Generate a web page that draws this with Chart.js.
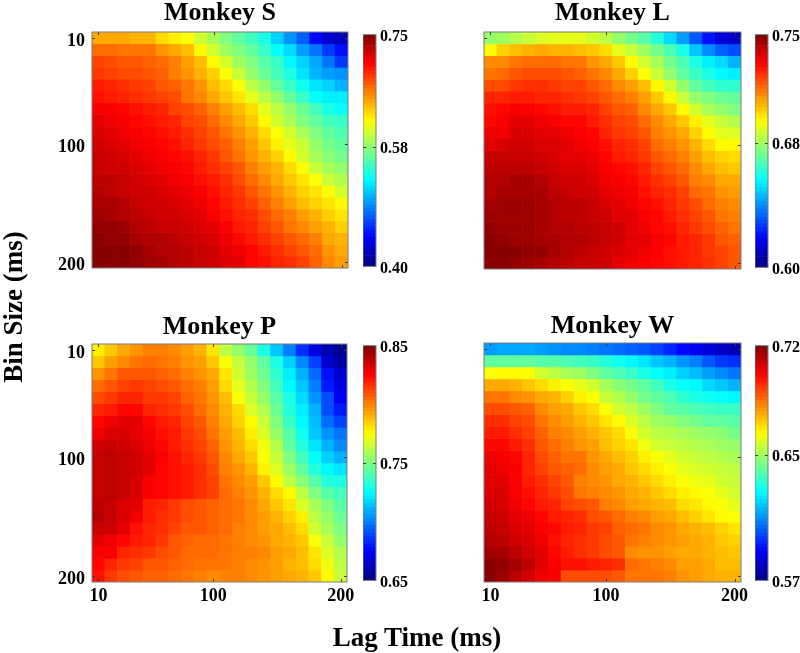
<!DOCTYPE html>
<html>
<head>
<meta charset="utf-8">
<title>Monkey heatmaps</title>
<script src="https://cdn.jsdelivr.net/npm/chart.js@4"></script>
<style>
    body { margin: 0; background: #fff; }
    /* the source figure is a soft scan, a touch of blur gets closer to it */
    #page { position: relative; width: 800px; height: 653px; overflow: hidden; filter: blur(0.4px); }
    canvas { position: absolute; }
    .axisLabel {
        position: absolute;
        font: bold 27px "Liberation Serif", serif;
        color: #000;
        white-space: nowrap;
        transform: translate(-50%, -50%);
    }
</style>
</head>
<body>
<div id="page">
    <div class="axisLabel" style="left:417px;top:637px">Lag Time (ms)</div>
    <div class="axisLabel" style="left:13px;top:307px;transform:translate(-50%,-50%) rotate(-90deg)">Bin Size (ms)</div>
</div>
<script>
const lagTimes = [10, 20, 30, 40, 50, 60, 70, 80, 90, 100, 110, 120, 130, 140, 150, 160, 170, 180, 190, 200];
const binSizes = [10, 20, 30, 40, 50, 60, 70, 80, 90, 100, 110, 120, 130, 140, 150, 160, 170, 180, 190, 200];
const axisTicks = [10, 100, 200];

// cell values, as percent of the way up each colour bar
// one row per bin size, one column per lag time
const monkeyS = [
    [71,71,71,70,70,66,64,62,58,54,50,47,44,40,33,27,22,13,8,6],
    [77,77,76,76,76,73,71,69,63,58,53,50,47,43,38,34,28,24,18,14],
    [81,80,79,79,78,77,75,72,69,63,58,53,50,46,43,37,33,29,24,18],
    [82,81,80,80,79,78,75,73,70,67,62,57,52,48,44,40,35,30,28,27],
    [85,84,83,82,81,79,78,76,73,69,66,62,56,52,47,43,39,35,33,30],
    [86,85,84,83,82,81,80,76,74,71,68,65,60,56,52,47,43,38,36,36],
    [88,88,87,86,85,84,81,80,78,75,72,69,66,60,56,52,48,44,40,38],
    [90,89,88,87,86,85,84,81,80,77,74,71,68,63,58,54,50,47,44,43],
    [91,90,89,88,87,86,85,83,81,79,76,73,70,66,62,58,54,50,47,45],
    [92,91,90,89,88,87,86,84,82,80,78,75,72,68,64,60,57,52,49,47],
    [93,92,91,90,89,88,87,86,84,82,79,76,73,70,67,63,58,54,51,49],
    [93,92,92,91,90,89,88,87,85,83,81,79,75,72,70,66,62,57,54,52],
    [94,94,93,92,91,90,89,88,86,85,83,80,77,74,71,68,65,62,57,55],
    [95,94,93,92,92,91,90,89,88,86,84,82,79,76,73,70,67,65,62,58],
    [96,96,95,93,92,92,91,90,89,87,85,83,81,78,75,72,69,67,65,63],
    [97,96,95,94,93,92,92,91,90,88,86,84,83,80,77,75,72,70,67,65],
    [98,98,97,95,94,93,93,92,91,90,88,85,84,81,79,76,74,72,70,67],
    [99,98,98,96,95,95,94,93,92,91,89,87,85,83,81,79,77,75,71,70],
    [99,99,99,98,96,95,95,94,93,92,90,89,87,85,83,81,79,77,73,71],
    [99,99,99,98,97,96,95,94,93,92,91,90,87,86,84,83,81,78,74,72]
];
const monkeyL = [
    [52,53,55,57,59,60,60,60,58,56,52,49,46,41,34,28,21,14,9,7],
    [63,67,69,70,71,70,70,69,68,66,60,57,53,49,45,40,32,26,22,20],
    [74,74,76,77,77,77,76,76,73,71,68,63,58,54,49,45,40,36,34,30],
    [76,77,79,80,80,80,79,78,76,74,71,67,62,57,52,47,43,40,37,36],
    [80,80,82,83,83,82,81,81,79,77,74,72,69,63,58,52,47,44,42,42],
    [84,84,85,85,84,84,83,82,81,79,77,75,72,68,63,57,52,50,48,47],
    [86,87,88,88,87,86,85,85,84,81,79,78,74,71,68,63,58,54,52,50],
    [87,88,90,90,89,88,87,87,85,83,81,80,77,74,71,68,64,60,57,55],
    [89,89,91,91,90,90,89,88,87,84,82,81,79,75,73,71,67,63,60,59],
    [90,91,92,92,91,91,90,89,88,86,84,83,81,77,75,73,70,66,63,63],
    [93,93,93,93,92,91,90,90,89,87,85,84,82,79,77,75,72,69,67,66],
    [94,94,94,94,93,92,91,91,90,88,87,86,84,81,79,77,74,71,69,68],
    [95,95,96,96,95,93,92,92,91,89,88,87,85,83,81,79,75,74,71,71],
    [95,96,96,96,96,94,93,92,92,90,89,88,86,84,83,81,77,76,73,72],
    [96,97,97,97,96,95,94,94,93,91,90,89,87,86,84,82,80,77,75,74],
    [97,97,97,97,96,95,94,94,93,92,90,90,88,87,85,83,81,79,76,75],
    [98,97,97,97,96,95,95,94,94,93,92,90,89,87,86,84,82,80,78,76],
    [99,98,97,97,96,96,95,95,94,93,92,90,90,88,87,85,84,82,79,78],
    [99,99,99,98,98,96,95,94,93,92,91,90,89,88,86,85,84,82,81,79],
    [99,99,98,97,96,95,94,93,93,92,90,89,88,87,86,85,84,83,81,79]
];
const monkeyP = [
    [64,68,71,73,75,75,74,72,70,65,56,52,48,40,32,25,17,10,5,2],
    [68,72,74,76,77,76,75,73,72,68,62,57,52,47,40,33,26,19,8,4],
    [73,76,79,79,79,78,77,75,73,71,65,58,53,48,42,36,30,23,14,8],
    [77,79,81,82,81,80,79,77,75,72,66,60,55,50,44,37,32,25,15,10],
    [80,82,84,84,82,82,81,78,76,73,69,62,57,52,46,40,34,27,20,12],
    [84,85,87,87,84,83,82,80,77,74,70,66,59,55,48,41,36,30,20,15],
    [87,89,90,90,87,85,84,81,79,75,71,67,63,57,50,43,37,31,23,19],
    [89,91,91,90,88,86,85,82,80,76,72,69,64,59,52,46,39,32,27,24],
    [92,93,92,91,89,87,85,83,81,78,73,70,66,61,55,47,41,35,30,26],
    [93,94,93,92,90,88,86,84,82,79,74,71,68,62,57,50,44,38,33,30],
    [93,94,93,92,90,87,86,85,83,80,75,73,70,64,59,53,47,41,37,35],
    [93,94,93,91,88,87,86,85,83,81,76,74,72,68,63,56,51,46,41,40],
    [93,94,93,91,88,87,86,85,83,81,77,75,73,70,66,63,56,50,46,44],
    [94,93,91,90,85,84,82,80,79,78,77,76,74,71,68,65,59,54,50,46],
    [95,93,91,89,85,83,82,80,79,78,77,76,74,72,70,67,64,56,52,48],
    [93,92,90,86,84,83,81,79,79,78,77,75,74,72,71,69,66,58,54,50],
    [90,89,87,85,84,82,79,78,77,77,76,75,74,73,71,70,68,62,57,52],
    [88,88,84,83,82,80,79,77,77,77,76,75,75,74,72,71,69,65,59,55],
    [87,84,82,81,79,79,78,77,76,76,76,75,74,73,72,70,69,66,61,56],
    [86,82,80,79,78,78,77,76,75,74,75,75,74,73,72,71,70,68,63,57]
];
const monkeyW = [
    [28,29,29,29,28,27,26,26,25,24,23,22,21,19,16,13,11,9,7,5],
    [47,47,47,47,46,46,45,44,43,41,39,37,35,32,30,27,25,21,18,17],
    [62,63,63,62,58,56,54,53,50,47,45,43,40,38,36,33,31,28,26,24],
    [71,71,70,68,66,64,62,60,58,54,51,49,47,44,40,38,37,34,32,30],
    [76,76,74,73,71,70,67,64,62,57,55,52,49,47,45,42,40,39,38,37],
    [80,80,79,78,74,72,71,68,66,62,58,56,53,50,47,46,45,44,43,43],
    [83,83,81,80,76,74,72,70,68,65,63,59,56,53,52,50,49,47,47,46],
    [85,85,83,81,78,75,74,72,70,68,66,62,58,56,55,54,53,52,51,49],
    [87,87,85,83,79,77,75,73,72,69,67,65,61,58,57,56,55,54,53,52],
    [89,88,87,84,80,78,76,76,73,71,69,67,64,62,60,58,57,56,55,54],
    [90,89,88,84,81,79,78,77,74,72,71,68,66,64,62,60,59,58,57,56],
    [90,90,88,85,83,81,79,75,74,73,71,70,68,66,64,62,61,60,58,57],
    [91,91,88,86,84,82,80,76,75,74,73,71,70,68,66,64,63,62,60,58],
    [92,91,89,87,85,84,81,80,79,75,74,72,71,70,69,66,65,63,62,60],
    [93,92,90,89,87,85,84,83,80,79,77,75,74,72,71,69,67,65,63,62],
    [94,93,91,90,88,87,85,84,82,81,78,77,76,74,73,71,70,69,67,65],
    [95,94,92,91,89,86,84,83,82,80,79,76,75,74,73,72,71,70,68,67],
    [97,96,94,92,90,87,85,83,82,80,79,74,73,73,72,71,71,70,69,68],
    [99,98,96,94,90,88,86,86,85,84,83,77,76,75,74,72,72,71,69,69],
    [99,97,94,92,89,88,80,80,80,80,79,76,76,76,75,73,72,71,70,70]
];

const barTicksS = [0.40, 0.58, 0.75];
const barTicksL = [0.60, 0.68, 0.75];
const barTicksP = [0.65, 0.75, 0.85];
const barTicksW = [0.57, 0.65, 0.72];

const SERIF = '"Liberation Serif", serif';
const page = document.getElementById("page");

function jet(p) {
    const c = v => Math.round(255 * Math.min(1, Math.max(0, 1.5 - Math.abs(v))));
    return `rgb(${c(4 * p - 3)},${c(4 * p - 2)},${c(4 * p - 1)})`;
}

function nuevoCanvas(left, top, width, height) {
    const canvas = document.createElement("canvas");
    canvas.width = width;
    canvas.height = height;
    canvas.style.left = left + "px";
    canvas.style.top = top + "px";
    page.appendChild(canvas);
    return canvas;
}

// frame and little inward ticks, like the matlab box
const cajaPlugin = {
    id: "caja",
    afterDatasetsDraw(chart) {
        const { ctx, chartArea: a, scales } = chart;
        ctx.save();
        ctx.strokeStyle = "#3a3a3a";
        ctx.lineWidth = 1;
        ctx.beginPath();
        scales.y.ticks.forEach(t => {
            const py = Math.round(scales.y.getPixelForValue(t.value)) + 0.5;
            ctx.moveTo(a.left, py); ctx.lineTo(a.left + 3, py);
            ctx.moveTo(a.right, py); ctx.lineTo(a.right - 3, py);
        });
        if (scales.x.type === "linear") {
            scales.x.ticks.forEach(t => {
                const px = Math.round(scales.x.getPixelForValue(t.value)) + 0.5;
                ctx.moveTo(px, a.top); ctx.lineTo(px, a.top + 3);
                ctx.moveTo(px, a.bottom); ctx.lineTo(px, a.bottom - 3);
            });
        }
        ctx.stroke();
        ctx.strokeStyle = "#7d7d7d";
        ctx.strokeRect(a.left, a.top, a.right - a.left, a.bottom - a.top);
        ctx.restore();
    }
};

function dibujarMapa(titulo, filas, rango, pos, conEtiquetasX) {
    const datasets = binSizes.map((bin, r) => ({
        label: bin + " ms",
        data: lagTimes.map(lag => ({ x: lag, y: [bin - 5, bin + 5] })),
        backgroundColor: filas[r].map(p => jet(p / 100)),
        // value the colour stands for, on the panel's own colour bar
        valores: filas[r].map(p => rango[0] + (rango[2] - rango[0]) * p / 100)
    }));
    const bajaTitulo = pos.top > 300 ? 2 : 0;
    const canvas = nuevoCanvas(pos.left - 60, pos.top - 32, pos.width + 80, pos.height + 60);
    new Chart(canvas, {
        type: "bar",
        data: { datasets },
        plugins: [cajaPlugin],
        options: {
            responsive: false,
            animation: false,
            grouped: false,
            barPercentage: 1,
            categoryPercentage: 1,
            borderWidth: 0,
            layout: { autoPadding: false, padding: { right: 20 } },
            plugins: {
                legend: { display: false },
                tooltip: { enabled: false },
                title: {
                    display: true,
                    text: titulo,
                    fullSize: false,
                    color: "#000",
                    font: { family: SERIF, size: 26, weight: "bold", lineHeight: 1 },
                    padding: { top: bajaTitulo, bottom: 6 - bajaTitulo }
                }
            },
            scales: {
                x: {
                    type: "linear",
                    offset: false,
                    min: 5,
                    max: 205,
                    stacked: true,
                    grid: { display: false, drawTicks: false },
                    border: { display: false },
                    afterBuildTicks: s => { s.ticks = axisTicks.map(value => ({ value })); },
                    afterFit: s => { s.height = 28; },
                    ticks: {
                        display: conEtiquetasX,
                        autoSkip: false,
                        maxRotation: 0,
                        padding: 4,
                        color: "#000",
                        font: { family: SERIF, size: 18, weight: "bold" }
                    }
                },
                y: {
                    type: "linear",
                    reverse: true,
                    min: 5,
                    max: 205,
                    grid: { display: false, drawTicks: false },
                    border: { display: false },
                    afterBuildTicks: s => { s.ticks = axisTicks.map(value => ({ value })); },
                    afterFit: s => { s.width = 60; },
                    ticks: {
                        display: pos.left < 200,
                        autoSkip: false,
                        padding: 7,
                        labelOffset: 3,
                        color: "#000",
                        font: { family: SERIF, size: 18, weight: "bold" }
                    }
                }
            }
        }
    });
}

function dibujarBarra(rango, pos) {
    const lo = rango[0], hi = rango[2];
    const niveles = 64;
    const datasets = [];
    for (let i = 0; i < niveles; i++) {
        const a = lo + (hi - lo) * i / niveles;
        const b = lo + (hi - lo) * (i + 1) / niveles;
        datasets.push({ data: [[a, b]], backgroundColor: jet((i + 0.5) / niveles) });
    }
    const canvas = nuevoCanvas(pos.left, pos.top - 12, pos.width + 46, pos.height + 24);
    new Chart(canvas, {
        type: "bar",
        data: { labels: [""], datasets },
        plugins: [cajaPlugin],
        options: {
            responsive: false,
            animation: false,
            grouped: false,
            barPercentage: 1,
            categoryPercentage: 1,
            borderWidth: 0,
            layout: { autoPadding: false, padding: { top: 12, bottom: 12 } },
            plugins: { legend: { display: false }, tooltip: { enabled: false } },
            scales: {
                x: { display: false, stacked: true },
                y: {
                    position: "right",
                    min: lo,
                    max: hi,
                    grid: { display: false, drawTicks: false },
                    border: { display: false },
                    afterBuildTicks: s => { s.ticks = rango.map(value => ({ value })); },
                    afterFit: s => { s.width = 46; },
                    ticks: {
                        autoSkip: false,
                        padding: 4,
                        labelOffset: 2,
                        color: "#000",
                        font: { family: SERIF, size: 16, weight: "bold" },
                        callback: v => v.toFixed(2)
                    }
                }
            }
        }
    });
}

dibujarMapa("Monkey S", monkeyS, barTicksS, { left: 92, top: 32, width: 256, height: 236 }, false);
dibujarMapa("Monkey L", monkeyL, barTicksL, { left: 484, top: 32, width: 257, height: 237 }, false);
dibujarMapa("Monkey P", monkeyP, barTicksP, { left: 92, top: 344, width: 255, height: 238 }, true);
dibujarMapa("Monkey W", monkeyW, barTicksW, { left: 484, top: 343, width: 257, height: 239 }, true);

dibujarBarra(barTicksS, { left: 363, top: 33, width: 13, height: 235 });
dibujarBarra(barTicksL, { left: 755, top: 33, width: 13, height: 236 });
dibujarBarra(barTicksP, { left: 363, top: 344, width: 13, height: 238 });
dibujarBarra(barTicksW, { left: 755, top: 344, width: 13, height: 238 });
</script>
</body>
</html>
